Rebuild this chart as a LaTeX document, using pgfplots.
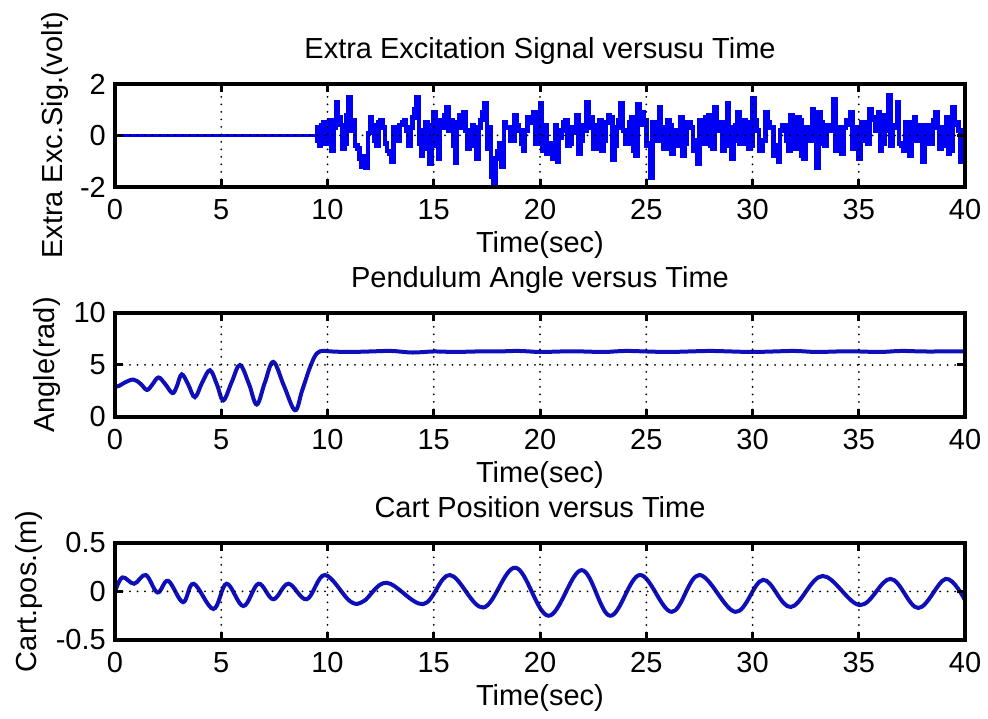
\documentclass[border=0pt]{standalone}
\usepackage{pgfplots}
\pgfplotsset{compat=1.18}
\usepackage{fontspec}
\setmainfont{Liberation Sans}
\definecolor{mblue}{RGB}{0,0,245}
\definecolor{dblue}{RGB}{15,15,185}
\newcommand{\fs}{\fontsize{29}{33}\selectfont}
\pgfplotsset{
  mat/.style={
    scale only axis, width=850pt,
    xmin=0, xmax=40, xtick={0,5,...,40},
    tick align=inside, major tick length=8pt,
    every tick/.style={black, line width=3pt},
    axis line style={black, line width=3.5pt},
    grid=major,
    major grid style={black, line width=2pt, dash pattern=on 0pt off 7.5pt, line cap=round},
    axis on top,
    tick label style={font=\fs},
    /pgf/number format/assume math mode=true,
    xticklabel style={anchor=north, inner sep=0pt, yshift=-12pt},
    yticklabel style={anchor=east, inner sep=0pt, xshift=-9pt},
    xlabel={Time(sec)},
    xlabel style={font=\fs, at={(axis description cs:0.5,0)}, anchor=base, yshift=-66pt},
    title style={font=\fs, at={(axis description cs:0.5,1)}, anchor=base, yshift=19pt},
  }
}
\pgfplotstableread{
t v
0 2.9
0.2 3.0
0.45 3.3
0.86 3.6
1.2 3.2
1.5 2.6
1.75 3.1
2.04 3.8
2.35 3.2
2.7 2.3
2.9 2.9
3.14 4.1
3.45 3.1
3.76 1.9
4.1 3.3
4.47 4.5
4.8 3.1
5.1 1.6
5.5 3.4
5.88 5.0
6.3 3.2
6.67 1.2
7.05 3.3
7.45 5.3
7.95 3.0
8.47 0.65
8.8 2.5
9.18 4.8
9.49 6.1
9.8 6.35
10.2 6.3
11 6.25
12 6.3
13 6.35
14 6.2
15 6.3
16 6.25
17 6.3
18 6.3
19 6.35
20 6.25
21 6.3
22 6.3
23 6.25
24 6.35
25 6.3
26 6.25
27 6.3
28 6.35
29 6.3
30 6.25
31 6.3
32 6.35
33 6.25
34 6.3
35 6.3
36 6.25
37 6.35
38 6.3
39 6.3
40 6.3
}\angle
\pgfplotstableread{
t v
0 0.0
0.35 0.145
0.9 0.08
1.45 0.17
2.0 -0.01
2.5 0.11
3.2 -0.11
3.7 0.08
4.63 -0.18
5.25 0.08
6.04 -0.15
6.75 0.08
7.45 -0.08
8.16 0.08
9.02 -0.08
9.88 0.17
11.06 -0.1
11.7 -0.1
12.78 0.09
14.5 -0.13
15.76 0.17
17.33 -0.165
18.85 0.245
20.4 -0.25
21.96 0.22
23.3 -0.25
24.7 0.17
26.2 -0.21
27.5 0.17
29.2 -0.21
30.5 0.12
31.8 -0.16
33.3 0.16
35.06 -0.14
36.5 0.13
37.8 -0.17
39.1 0.13
40 -0.09
}\cart
\begin{document}
\begin{tikzpicture}
\path[use as bounding box] (0pt,0pt) rectangle (988pt,719pt);
% top
\begin{axis}[mat, at={(115pt,532pt)}, anchor=south west, height=103pt,
  ymin=-2, ymax=2, ytick={-2,0,2}, yticklabels={-2,0,2},
  title={Extra Excitation Signal versusu Time},
  ylabel={Extra Exc.Sig.(volt)},
  ylabel style={font=\fs, at={(axis description cs:-0.0612,0.5)}, anchor=base}]
\addplot[mblue, line width=3pt] coordinates {(0,0) (9.4,0)};
\addplot[mblue, line width=4.6pt, const plot] coordinates {
(9.4,0.3)(9.5,-0.2)(9.6,-0.4)(9.7,0.4)(9.8,0.5)(9.9,-0.3)(10.0,0.2)(10.1,0.6)(10.2,-0.6)(10.3,0.3)
(10.4,1.3)(10.5,0.7)(10.6,0.4)(10.7,-0.5)(10.8,-0.3)(10.9,0.8)(11.0,1.5)(11.1,0.2)(11.2,0.6)(11.3,-0.4)
(11.4,-0.5)(11.5,-0.9)(11.6,-1.2)(11.7,-0.8)(11.8,-1.25)(11.9,0.1)(12.0,0.7)(12.1,0.4)(12.2,-0.2)(12.3,-0.4)
(12.4,0.5)(12.5,0.6)(12.6,0.3)(12.7,-0.3)(12.8,-0.6)(12.9,-0.7)(13.0,-1.0)(13.1,0.3)(13.2,0.2)(13.3,-0.2)
(13.4,0.4)(13.5,0.5)(13.6,0.6)(13.7,0.2)(13.8,-0.4)(13.9,0.3)(14.0,0.7)(14.1,1.0)(14.2,1.5)(14.3,-0.3)
(14.4,-0.8)(14.5,0.2)(14.6,0.5)(14.7,-0.5)(14.8,-1.1)(14.9,0.4)(15.0,0.9)(15.1,-0.4)(15.2,-0.9)(15.3,0.6)
(15.4,0.3)(15.5,0.8)(15.6,1.1)(15.7,0.2)(15.8,0.6)(15.9,-0.4)(16.0,-1.05)(16.1,0.5)(16.2,0.8)(16.3,0.3)
(16.4,0.9)(16.5,0.2)(16.6,-0.5)(16.7,-0.3)(16.8,0.4)(16.9,-0.4)(17.0,-0.9)(17.1,0.3)(17.2,0.6)(17.3,0.9)
(17.4,1.25)(17.5,-0.5)(17.6,0.3)(17.7,-1.6)(17.8,-2.0)(17.9,-0.9)(18.0,-0.6)(18.1,-0.3)(18.2,-1.2)(18.3,0.5)
(18.4,0.3)(18.5,0.3)(18.6,-0.2)(18.7,-0.2)(18.8,0.8)(18.9,0.4)(19.0,0.2)(19.1,-0.3)(19.2,-0.6)(19.3,0.2)
(19.4,0.7)(19.5,0.6)(19.6,0.5)(19.7,0.9)(19.8,-0.3)(19.9,-0.2)(20.0,1.25)(20.1,-0.6)(20.2,0.4)(20.3,-0.7)
(20.4,-0.4)(20.5,-0.3)(20.6,-0.9)(20.7,0.4)(20.8,-1.0)(20.9,-0.1)(21.0,0.2)(21.1,0.5)(21.2,0.6)(21.3,-0.4)
(21.4,-0.3)(21.5,0.3)(21.6,0.1)(21.7,0.8)(21.8,-0.7)(21.9,-0.2)(22.0,0.4)(22.1,0.2)(22.2,1.3)(22.3,0.3)
(22.4,0.7)(22.5,-0.5)(22.6,-0.5)(22.7,0.4)(22.8,0.6)(22.9,-0.6)(23.0,-0.2)(23.1,0.5)(23.2,0.8)(23.3,0.7)
(23.4,-0.95)(23.5,-0.4)(23.6,0.3)(23.7,0.6)(23.8,1.25)(23.9,0.2)(24.0,-0.3)(24.1,-0.3)(24.2,0.5)(24.3,0.7)
(24.4,-0.6)(24.5,-0.8)(24.6,1.2)(24.7,0.4)(24.8,0.9)(24.9,0.6)(25.0,-0.4)(25.1,-0.3)(25.2,-1.65)(25.3,0.5)
(25.4,0.3)(25.5,-0.2)(25.6,1.1)(25.7,0.3)(25.8,-0.5)(25.9,-0.5)(26.0,0.6)(26.1,0.4)(26.2,-0.7)(26.3,0.2)
(26.4,0.2)(26.5,-0.4)(26.6,0.7)(26.7,-0.8)(26.8,-0.3)(26.9,0.5)(27.0,0.5)(27.1,0.3)(27.2,-0.6)(27.3,-0.2)
(27.4,-1.1)(27.5,0.6)(27.6,0.2)(27.7,-0.3)(27.8,0.7)(27.9,0.8)(28.0,-0.4)(28.1,-0.5)(28.2,1.1)(28.3,0.2)
(28.4,0.3)(28.5,0.5)(28.6,-0.6)(28.7,-0.4)(28.8,1.25)(28.9,0.3)(29.0,-0.9)(29.1,-0.2)(29.2,0.4)(29.3,0.9)
(29.4,-0.3)(29.5,-0.3)(29.6,0.6)(29.7,0.5)(29.8,-0.5)(29.9,-0.4)(30.0,1.45)(30.1,0.6)(30.2,0.2)(30.3,-0.6)
(30.4,-0.6)(30.5,-0.2)(30.6,0.9)(30.7,0.5)(30.8,0.3)(30.9,0.3)(31.0,-0.8)(31.1,-0.4)(31.2,-1.0)(31.3,0.2)
(31.4,0.4)(31.5,0.4)(31.6,-0.2)(31.7,-0.6)(31.8,0.8)(31.9,0.2)(32.0,-0.5)(32.1,0.7)(32.2,0.6)(32.3,-0.8)
(32.4,-0.9)(32.5,0.3)(32.6,0.3)(32.7,-0.2)(32.8,1.0)(32.9,0.6)(33.0,-1.25)(33.1,0.9)(33.2,0.5)(33.3,-0.3)
(33.4,-0.4)(33.5,0.4)(33.6,0.2)(33.7,0.2)(33.8,1.4)(33.9,-0.6)(34.0,0.3)(34.1,-0.4)(34.2,-0.7)(34.3,0.3)
(34.4,0.6)(34.5,0.4)(34.6,0.9)(34.7,-0.5)(34.8,-0.5)(34.9,0.3)(35.0,-0.9)(35.1,0.5)(35.2,0.5)(35.3,-0.2)
(35.4,-0.3)(35.5,1.0)(35.6,0.7)(35.7,0.6)(35.8,0.2)(35.9,0.9)(36.0,-0.6)(36.1,-0.3)(36.2,0.8)(36.3,0.2)
(36.4,1.55)(36.5,-0.4)(36.6,0.3)(36.7,0.4)(36.8,1.3)(36.9,-0.3)(37.0,-0.4)(37.1,-0.6)(37.2,0.5)(37.3,0.3)
(37.4,-0.8)(37.5,0.5)(37.6,0.7)(37.7,-0.2)(37.8,0.2)(37.9,0.4)(38.0,-1.0)(38.1,-0.3)(38.2,0.4)(38.3,-0.2)
(38.4,-0.3)(38.5,0.6)(38.6,0.9)(38.7,0.3)(38.8,-0.5)(38.9,-0.4)(39.0,0.3)(39.1,0.7)(39.2,-0.7)(39.3,-0.6)
(39.4,1.1)(39.5,0.4)(39.6,0.5)(39.7,0.2)(39.8,-1.0)(39.9,-0.5)(40.0,-0.3)
};
\end{axis}
% middle
\begin{axis}[mat, at={(115pt,302pt)}, anchor=south west, height=104pt,
  ymin=0, ymax=10, ytick={0,5,10}, yticklabels={0,5,10},
  title={Pendulum Angle versus Time},
  ylabel={Angle(rad)},
  ylabel style={font=\fs, at={(axis description cs:-0.0706,0.5)}, anchor=base}]
\addplot[dblue, line width=4pt, smooth, tension=0.6] table[x=t,y=v] {\angle};
\end{axis}
% bottom
\begin{axis}[mat, at={(115pt,79pt)}, anchor=south west, height=97pt,
  ymin=-0.5, ymax=0.5, ytick={-0.5,0,0.5}, yticklabels={-0.5,0,0.5},
  title={Cart Position versus Time},
  ylabel={Cart.pos.(m)},
  ylabel style={font=\fs, at={(axis description cs:-0.0918,0.5)}, anchor=base}]
\addplot[dblue, line width=4pt, smooth, tension=0.6] table[x=t,y=v] {\cart};
\end{axis}
\end{tikzpicture}
\end{document}
